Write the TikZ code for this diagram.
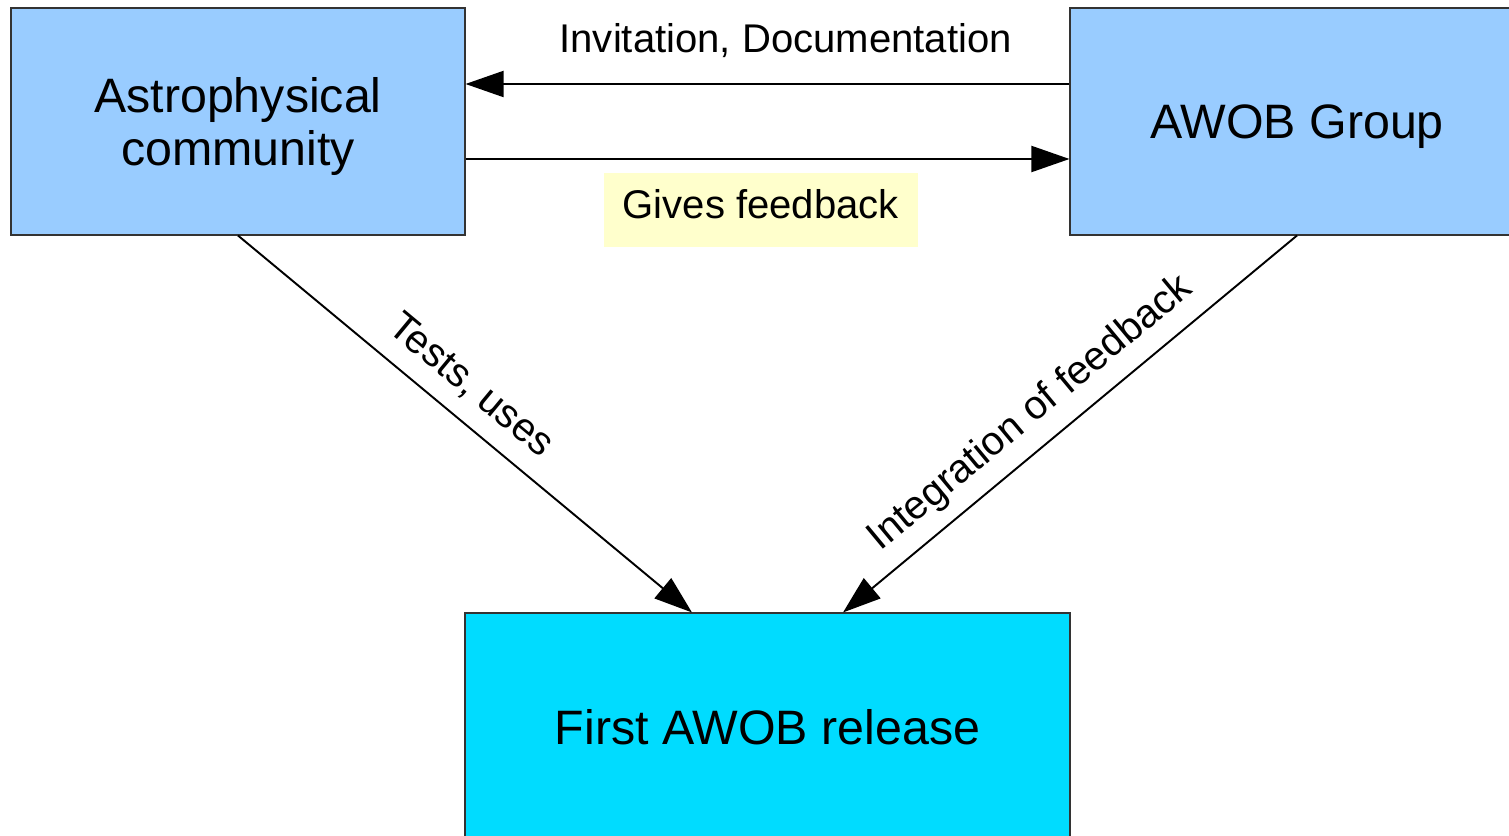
\documentclass[tikz,border=0pt]{standalone}
\usepackage{fontspec}
\setmainfont{Liberation Sans}
\usepackage{tikz}
\usetikzlibrary{arrows, arrows.meta, calc}

\definecolor{partyblue}{RGB}{153,204,255}
\definecolor{releasecyan}{RGB}{0,220,255}
\definecolor{notepale}{RGB}{255,255,204}

\tikzset{
    party/.style={draw=black!80, line width=0.6pt, fill=partyblue, minimum width=9.08cm, minimum height=4.54cm, align=center, text depth=0pt, font=\fontsize{27.5}{30.5}\selectfont},
    flow/.style={line width=1.1pt, -{Triangle[length=0.76cm, width=0.52cm]}},
    flowtext/.style={font=\fontsize{22.8}{26}\selectfont}
}

\begin{document}
\begin{tikzpicture}
    \useasboundingbox (0, 0) rectangle (30.18, -16.72);
    \clip (0, 0) rectangle (30.18, -16.72);
    \node[party] (astro) at (4.76, -2.43) {Astrophysical\\community};
    \node[party] (awob) at (25.94, -2.43) {AWOB Group};
    \node[party, fill=releasecyan, minimum width=12.1cm, minimum height=4.56cm] (release) at (15.35, -14.54) {First AWOB release};
    \draw[flow] ([yshift=0.75cm]awob.west) -- ([yshift=0.75cm]astro.east)
        node[flowtext, pos=0.47, above=0.4cm] (invite) {Invitation, Documentation};
    \draw[flow] ([yshift=-0.75cm]astro.east) -- ([yshift=-0.75cm]awob.west)
        node[flowtext, pos=0.489, below=0.26cm, fill=notepale, minimum width=6.28cm, minimum height=1.48cm, text depth=6.8pt] (feedback) {Gives feedback};
    \draw[flow] (astro.south) -- ([xshift=-1.51cm]release.north)
        node[flowtext, pos=0.466, sloped, above=0.2cm] (tests) {Tests, uses};
    \draw[flow] (awob.south) -- ([xshift=1.51cm]release.north)
        node[flowtext, pos=0.54, sloped, above=0.15cm] (integrate) {Integration of feedback};
\end{tikzpicture}
\end{document}
